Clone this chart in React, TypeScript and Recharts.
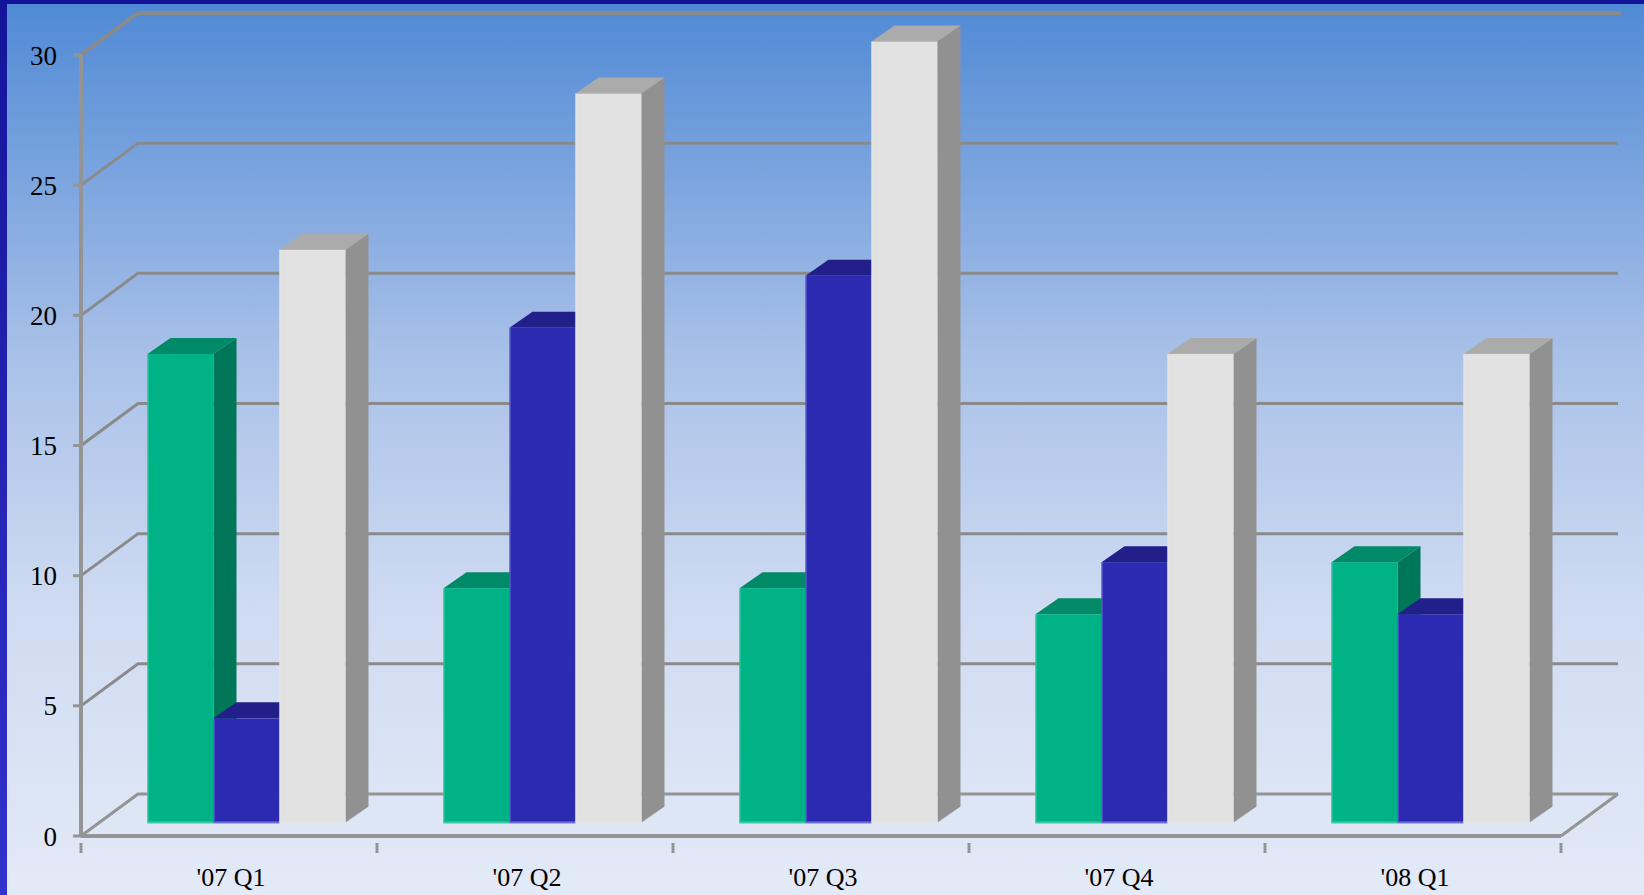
import React from 'react';
import { BarChart, Bar, XAxis, YAxis, CartesianGrid } from 'recharts';

const quarters = ["'07 Q1", "'07 Q2", "'07 Q3", "'07 Q4", "'08 Q1"];
const seriesA = [18, 9, 9, 8, 10];
const seriesB = [4, 19, 21, 10, 8];
const seriesC = [22, 28, 30, 18, 18];
const yTicks = [0, 5, 10, 15, 20, 25, 30];

const data = quarters.map((quarter, i) => ({
  quarter,
  a: seriesA[i],
  b: seriesB[i],
  c: seriesC[i],
}));

const WIDTH = 1644;
const HEIGHT = 895;
const PLOT_LEFT = 81;
const PLOT_TOP = 55;
const PLOT_RIGHT = 1561;
const PLOT_BOTTOM = 836;
const BAND = (PLOT_RIGHT - PLOT_LEFT) / quarters.length;

// back wall sits up and to the right of the axes
const WALL_DX = 57;
const WALL_DY = -42;
// bars stand part way into the floor
const BAR_DX = 17.5;
const BAR_DY = -13.5;
// depth of a single bar
const DEPTH_X = 23;
const DEPTH_Y = -16;

const AXIS_GRAY = '#949494';
const GRID_GRAY = '#8a8a8a';
const FONT = '"Liberation Serif", "Times New Roman", serif';

const faces = {
  a: { front: '#00b386', top: '#008a68', side: '#007658', edge: '#3ccaa8' },
  b: { front: '#2c2ab0', top: '#221f8a', side: '#1f1d7c', edge: '#6f70dc' },
  c: { front: '#e2e2e2', top: '#ababab', side: '#919191', edge: '#e6e6e6' },
};

const Box3D = (props: any) => {
  const { width, height, colors } = props;
  const x = props.x + BAR_DX;
  const y = props.y + BAR_DY;
  const right = x + width;
  const base = y + height;
  return (
    <g>
      <polygon
        points={`${right},${y} ${right + DEPTH_X},${y + DEPTH_Y} ${right + DEPTH_X},${base + DEPTH_Y} ${right},${base}`}
        fill={colors.side}
      />
      <polygon
        points={`${x},${y} ${x + DEPTH_X},${y + DEPTH_Y} ${right + DEPTH_X},${y + DEPTH_Y} ${right},${y}`}
        fill={colors.top}
      />
      <rect x={x} y={y} width={width} height={height} fill={colors.front} />
      {/* lighter rim down the left and along the base of each front face */}
      <rect x={x} y={y} width={1} height={height} fill={colors.edge} />
      <rect x={x} y={base - 1} width={width} height={2} fill={colors.edge} />
    </g>
  );
};

// one grid level: diagonal up the side wall, then along the back wall
const WallLine = (props: any) => {
  const { x1, x2, y1, index } = props;
  const backY = y1 + WALL_DY;
  const isTop = y1 <= PLOT_TOP + 1;
  const isFloor = y1 >= PLOT_BOTTOM - 1;
  const w = isTop ? 4 : 3;
  return (
    <g key={`wall-${index}`}>
      <polyline
        points={`${x1},${y1} ${x1 + WALL_DX},${backY} ${x2 + WALL_DX + (isTop ? 3 : 0)},${backY}`}
        fill="none"
        stroke={isFloor ? AXIS_GRAY : GRID_GRAY}
        strokeWidth={w}
      />
      {isFloor && (
        <line x1={x2} y1={y1} x2={x2 + WALL_DX} y2={backY} stroke={AXIS_GRAY} strokeWidth={3} />
      )}
    </g>
  );
};

const QuarterTick = (props: any) => {
  const { x, y, payload, index } = props;
  const left = x - BAND / 2;
  const isLast = index === quarters.length - 1;
  return (
    <g>
      <line x1={left} y1={y - 1} x2={left} y2={y + 9} stroke={AXIS_GRAY} strokeWidth={3} />
      {isLast && (
        <line x1={x + BAND / 2} y1={y - 1} x2={x + BAND / 2} y2={y + 9} stroke={AXIS_GRAY} strokeWidth={3} />
      )}
      <text
        x={x + 2}
        y={PLOT_BOTTOM + 41}
        dy="0.355em"
        textAnchor="middle"
        fontFamily={FONT}
        fontSize={26}
        fill="#000"
      >
        {payload.value}
      </text>
    </g>
  );
};

const App: React.FC = () => {
  return (
    <div
      style={{
        position: 'absolute',
        left: 0,
        top: 0,
        width: WIDTH,
        height: HEIGHT,
        overflow: 'hidden',
        background: 'linear-gradient(180deg, #4f89d5 0%, #a9c1e8 40%, #cfdbf2 68%, #e3eaf7 100%)',
      }}
    >
      {/* slide frame on the top and left edges */}
      <div style={{ position: 'absolute', left: 0, top: 0, width: WIDTH, height: 4, background: '#14149a' }} />
      <div
        style={{
          position: 'absolute',
          left: 0,
          top: 0,
          width: 7,
          height: HEIGHT,
          background: 'linear-gradient(180deg, #14149a 0%, #3232cc 100%)',
        }}
      />
      <BarChart
        width={WIDTH}
        height={HEIGHT}
        data={data}
        barSize={66}
        barGap={0}
        margin={{ top: PLOT_TOP, right: WIDTH - PLOT_RIGHT, bottom: 0, left: 0 }}
        style={{ position: 'absolute', left: 0, top: 0 }}
      >
        <CartesianGrid vertical={false} horizontal={(p: any) => <WallLine {...p} />} />
        <XAxis
          dataKey="quarter"
          height={HEIGHT - PLOT_BOTTOM}
          interval={0}
          tickLine={false}
          axisLine={{ stroke: AXIS_GRAY, strokeWidth: 4 }}
          tick={<QuarterTick />}
        />
        <YAxis
          width={PLOT_LEFT}
          domain={[0, 30]}
          ticks={yTicks}
          interval={0}
          tickSize={8}
          tickMargin={16}
          tickLine={{ stroke: AXIS_GRAY, strokeWidth: 3 }}
          axisLine={{ stroke: AXIS_GRAY, strokeWidth: 4 }}
          tick={{ fill: '#000', fontSize: 27, fontFamily: FONT }}
        />
        <Bar dataKey="a" isAnimationActive={false} shape={<Box3D colors={faces.a} />} />
        <Bar dataKey="b" isAnimationActive={false} shape={<Box3D colors={faces.b} />} />
        <Bar dataKey="c" isAnimationActive={false} shape={<Box3D colors={faces.c} />} />
      </BarChart>
    </div>
  );
};

export default App;
